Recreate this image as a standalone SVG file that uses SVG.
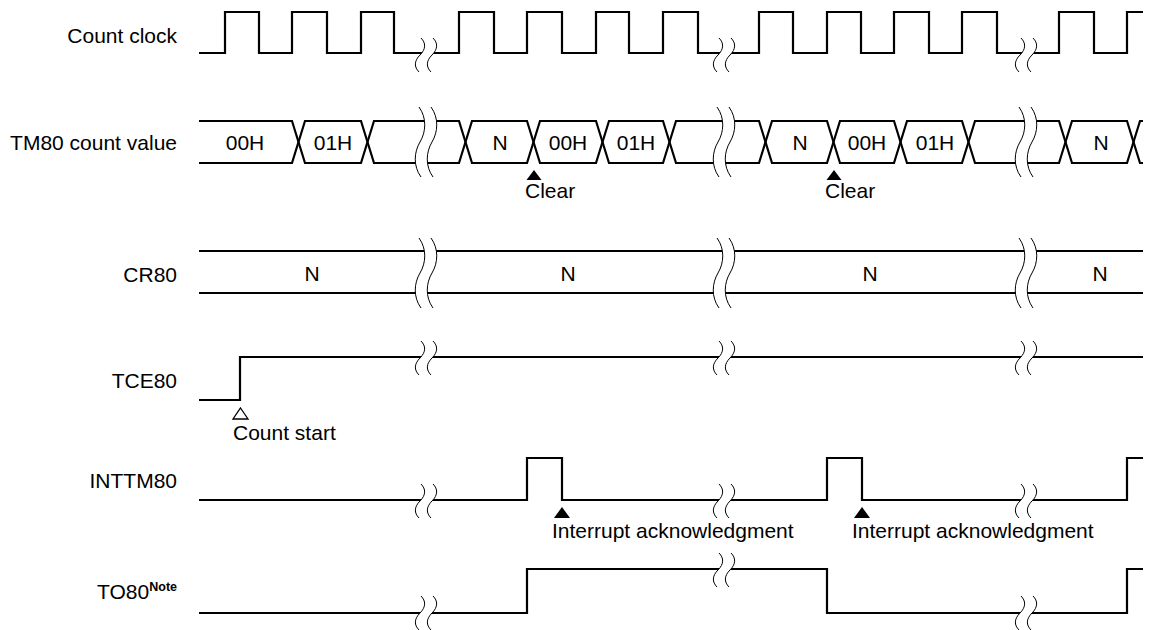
<svg xmlns="http://www.w3.org/2000/svg" xmlns:xlink="http://www.w3.org/1999/xlink" width="1149" height="630" viewBox="0 0 1149 630">
<style>
  text { font-family: "Liberation Sans", Arial, sans-serif; font-size: 21px; fill: #000; }
  .lbl { text-anchor: end; }
  .mid { text-anchor: middle; }
  .sig { fill: none; stroke: #000; stroke-width: 2.2; stroke-linejoin: miter; }
  .brkfill { fill: #fff; stroke: none; }
  .brkline { fill: none; stroke: #000; stroke-width: 1; }
  .tri { fill: #000; stroke: none; }
  .otri { fill: #fff; stroke: #000; stroke-width: 1.3; }
</style>
<defs>
  <g id="brkS">
    <path class="brkfill" d="M1,-17 C6,-12 6,-6 0,0 C-6,6 -6,12 -1,17 L11,17 C6,12 6,6 12,0 C18,-6 18,-12 13,-17 Z"/>
    <path class="brkline" d="M1,-17 C6,-12 6,-6 0,0 C-6,6 -6,12 -1,17"/>
    <path class="brkline" d="M13,-17 C18,-12 18,-6 12,0 C6,6 6,12 11,17"/>
  </g>
  <g id="brkT">
    <path class="brkfill" d="M-1,-35 C7,-24 6,-10 0,0 C-6,10 -7,24 1,35 L13,35 C5,24 6,10 12,0 C18,-10 19,-24 11,-35 Z"/>
    <path class="brkline" d="M-1,-35 C7,-24 6,-10 0,0 C-6,10 -7,24 1,35"/>
    <path class="brkline" d="M11,-35 C19,-24 18,-10 12,0 C6,10 5,24 13,35"/>
  </g>
</defs>
<rect width="1149" height="630" fill="#fff"/>

<g id="count-clock">
  <text class="lbl" x="177" y="43">Count clock</text>
  <path class="sig" d="M199,53 H225 V12 H259 V53 H292 V12 H327 V53 H361 V12 H394 V53 H459 V12 H494 V53 H527 V12 H562 V53 H596 V12 H629 V53 H663 V12 H698 V53 H759 V12 H793 V53 H827 V12 H861 V53 H894 V12 H929 V53 H962 V12 H997 V53 H1059 V12 H1094 V53 H1127 V12 H1143"/>
  <use xlink:href="#brkS" href="#brkS" transform="translate(420,55)"/>
  <use xlink:href="#brkS" href="#brkS" transform="translate(718,55)"/>
  <use xlink:href="#brkS" href="#brkS" transform="translate(1020,55)"/>
</g>

<g id="tm80-count-value">
  <text class="lbl" x="177" y="150">TM80 count value</text>
  <path class="sig" d="M199,121 H292 L305,163 H361 L374,121 H459 L472,163 H527 L540,121 H596 L609,163 H663 L676,121 H759 L772,163 H827 L840,121 H894 L907,163 H962 L975,121 H1059 L1072,163 H1127 L1140,121 H1143"/>
  <path class="sig" d="M199,163 H292 L305,121 H361 L374,163 H459 L472,121 H527 L540,163 H596 L609,121 H663 L676,163 H759 L772,121 H827 L840,163 H894 L907,121 H962 L975,163 H1059 L1072,121 H1127 L1140,163 H1143"/>
  <use xlink:href="#brkT" href="#brkT" transform="translate(420,142)"/>
  <use xlink:href="#brkT" href="#brkT" transform="translate(718,142)"/>
  <use xlink:href="#brkT" href="#brkT" transform="translate(1020,142)"/>
  <text class="mid" x="245" y="150">00H</text>
  <text class="mid" x="333" y="150">01H</text>
  <text class="mid" x="500" y="150">N</text>
  <text class="mid" x="568" y="150">00H</text>
  <text class="mid" x="636" y="150">01H</text>
  <text class="mid" x="800" y="150">N</text>
  <text class="mid" x="867" y="150">00H</text>
  <text class="mid" x="935" y="150">01H</text>
  <text class="mid" x="1101" y="150">N</text>
</g>

<g id="cr80">
  <text class="lbl" x="177" y="282">CR80</text>
  <path class="sig" d="M199,251 H1143 M199,293 H1143"/>
  <use xlink:href="#brkT" href="#brkT" transform="translate(420,273)"/>
  <use xlink:href="#brkT" href="#brkT" transform="translate(718,273)"/>
  <use xlink:href="#brkT" href="#brkT" transform="translate(1020,273)"/>
  <text class="mid" x="312" y="281">N</text>
  <text class="mid" x="568" y="281">N</text>
  <text class="mid" x="870" y="281">N</text>
  <text class="mid" x="1100" y="281">N</text>
</g>

<g id="tce80">
  <text class="lbl" x="177" y="388">TCE80</text>
  <path class="sig" d="M199,400 H240 V357 H1143"/>
  <use xlink:href="#brkS" href="#brkS" transform="translate(420,358)"/>
  <use xlink:href="#brkS" href="#brkS" transform="translate(718,358)"/>
  <use xlink:href="#brkS" href="#brkS" transform="translate(1020,358)"/>
</g>

<g id="inttm80">
  <text class="lbl" x="177" y="488">INTTM80</text>
  <path class="sig" d="M199,500 H527 V458 H562 V500 H827 V458 H862 V500 H1127 V458 H1143"/>
  <use xlink:href="#brkS" href="#brkS" transform="translate(420,501)"/>
  <use xlink:href="#brkS" href="#brkS" transform="translate(718,501)"/>
  <use xlink:href="#brkS" href="#brkS" transform="translate(1020,501)"/>
</g>

<g id="to80">
  <text class="lbl" x="177" y="599">TO80<tspan font-size="12.5" font-weight="bold" dy="-8">Note</tspan></text>
  <path class="sig" d="M199,613 H527 V569 H827 V613 H1127 V569 H1143"/>
  <use xlink:href="#brkS" href="#brkS" transform="translate(420,613)"/>
  <use xlink:href="#brkS" href="#brkS" transform="translate(718,570)"/>
  <use xlink:href="#brkS" href="#brkS" transform="translate(1020,613)"/>
</g>

<g id="connectors">
  <g id="clear-1">
    <path class="tri" d="M534,170 L541.5,180 L526.5,180 Z"/>
    <text x="525" y="198">Clear</text>
  </g>
  <g id="clear-2">
    <path class="tri" d="M834,170 L841.5,180 L826.5,180 Z"/>
    <text x="825" y="198">Clear</text>
  </g>
  <g id="count-start">
    <path class="otri" d="M240.5,408 L248,419 L233,419 Z"/>
    <text x="233" y="440">Count start</text>
  </g>
  <g id="int-ack-1">
    <path class="tri" d="M562,507 L570,518 L554,518 Z"/>
    <text x="552" y="538">Interrupt acknowledgment</text>
  </g>
  <g id="int-ack-2">
    <path class="tri" d="M862,507 L870,518 L854,518 Z"/>
    <text x="852" y="538">Interrupt acknowledgment</text>
  </g>
</g>
</svg>
